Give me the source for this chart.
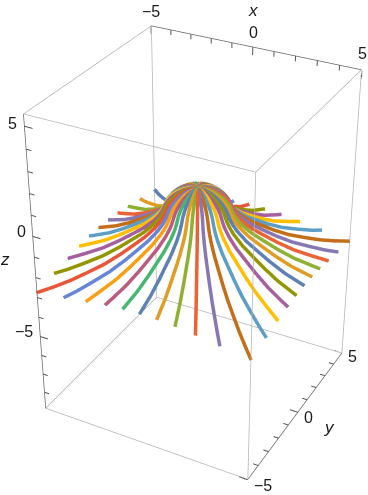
import numpy as np, plotly.graph_objects as go

# Radial profile of the curves (radius from the z axis, height)
profile_rho = [0, .3, .6, .85, 1.05, 1.2, 1.33, 1.42, 1.5, 1.62, 1.85, 2.3, 2.75, 3.4, 4.1, 4.9, 5.6, 6.3, 7.2]
profile_z = [1.13, 1.10, 1.01, .87, .72, .56, .38, .18, 0, -.2, -.47, -.85, -1.13, -1.52, -1.88, -2.18, -2.42, -2.6, -2.78]
# Direction of each of the 40 curves, in degrees
azimuths = [135, 144, 153, 162, 171, 180, 189, 198, 207, 216, 225, 234, 243, 252, 261, 270, 279, 288, 297, 306,
            315, 324, 333, 342, 351, 360, 369, 378, 387, 396, 405, 414, 423, 432, 441, 450, 459, 468, 477, 486]
palette = ["#5E81B5", "#E19C24", "#8FB032", "#EB6235", "#8778B3", "#C56E1A", "#5D9EC7", "#FFBF00", "#A5609D", "#929600",
           "#E95536", "#6685D9", "#F89F13", "#BC5B80", "#47B66F"]
color_index = [0, 1, 2, 3, 4, 5, 6, 7, 8, 9, 10, 11, 12, 13, 14, 0, 1, 2, 3, 4, 5, 6, 7, 8, 9,
               0, 1, 2, 3, 4, 5, 6, 7, 8, 9, 10, 11, 12, 13, 14]
x_range = [-5, 5]
y_range = [-5, 5]
z_range = [-8.91, 5.55]
x_ticks = [-5, -4, -3, -2, -1, 0, 1, 2, 3, 4, 5]
y_ticks = [-5, -4, -3, -2, -1, 0, 1, 2, 3, 4, 5]
z_ticks = [-8, -7, -6, -5, -4, -3, -2, -1, 0, 1, 2, 3, 4, 5]
major_ticks = [-5, 0, 5]

fig = go.Figure()
rho = np.array(profile_rho)
for az, ci in zip(azimuths, color_index):
    a = np.radians(az)
    fig.add_trace(go.Scatter3d(x=rho * np.cos(a), y=rho * np.sin(a), z=profile_z, mode="lines",
                               line=dict(width=7, color=palette[ci]), showlegend=False, hoverinfo="skip"))

inset = 0.02
xl, xh = x_range[0] + inset, x_range[1] - inset
yl, yh = y_range[0] + inset, y_range[1] - inset
zl, zh = z_range[0] + inset, z_range[1] - inset

# Light box edges
bx, by, bz = [], [], []
for (x0, y0, z0), (x1, y1, z1) in [((xl, yl, zh), (xh, yl, zh)), ((xh, yl, zh), (xh, yh, zh)), ((xl, yl, zh), (xl, yh, zh)),
                                   ((xl, yl, zl), (xh, yl, zl)), ((xl, yl, zl), (xl, yh, zl)), ((xl, yh, zl), (xh, yh, zl)),
                                   ((xh, yl, zl), (xh, yl, zh)), ((xh, yh, zl), (xh, yh, zh)), ((xl, yh, zl), (xl, yh, zh))]:
    bx += [x0, x1, np.nan]; by += [y0, y1, np.nan]; bz += [z0, z1, np.nan]
fig.add_trace(go.Scatter3d(x=bx, y=by, z=bz, mode="lines", line=dict(width=1.5, color="#b4b4b4"),
                           showlegend=False, hoverinfo="skip"))

# Dark axis edges
fig.add_trace(go.Scatter3d(x=[xl, xh, np.nan, xh, xh, np.nan, xl, xl], y=[yh, yh, np.nan, yl, yh, np.nan, yl, yl],
                           z=[zh, zh, np.nan, zl, zl, np.nan, zh, zl], mode="lines", line=dict(width=1.5, color="#666666"),
                           showlegend=False, hoverinfo="skip"))

# Tick marks
sx, sy, sz = [], [], []
for t in x_ticks:
    L = .38 if t in major_ticks else .24
    sx += [t, t, np.nan]; sy += [yh, yh, np.nan]; sz += [zh, zh - L, np.nan]
for t in y_ticks:
    L = .38 if t in major_ticks else .24
    sx += [xh, xh - L, np.nan]; sy += [t, t, np.nan]; sz += [zl, zl, np.nan]
for t in z_ticks:
    L = .38 if t in major_ticks else .24
    sx += [xl, xl + L, np.nan]; sy += [yl, yl, np.nan]; sz += [t, t, np.nan]
fig.add_trace(go.Scatter3d(x=sx, y=sy, z=sz, mode="lines", line=dict(width=2, color="#555555"),
                           showlegend=False, hoverinfo="skip"))

txt = dict(family="Liberation Sans, Arial, sans-serif", size=16, color="#1a1a1a")
def lab(text, x, y, z, dx, dy, size=16):
    return dict(text=text, x=x, y=y, z=z, xshift=dx, yshift=-dy, showarrow=False, xanchor="center", yanchor="middle",
                font=dict(txt, size=size))
anns = [lab("−5", -5, 5, zh, 0, -14), lab("0", 0, 5, zh, 0, -14), lab("5", 5, 5, zh, 0, -16),
        lab("<i>x</i>", 0, 5, zh, 0, -36, 17),
        lab("5", 5, 5, zl, 10, 4), lab("0", 5, 0, zl, 10, 5), lab("−5", 5, -5, zl, 15, 6),
        lab("<i>y</i>", 5, 0, zl, 31, 15, 17),
        lab("5", -5, -5, 5, -11, -3), lab("0", -5, -5, 0, -11, -5), lab("−5", -5, -5, -5, -16, -5),
        lab("<i>z</i>", -5, -5, -1, -29, 2, 17)]

axis = dict(showgrid=False, zeroline=False, showticklabels=False, showbackground=False, title="", ticks="",
            ticklen=0, tickwidth=0, tickmode="array", tickvals=[], showline=False, showspikes=False)
fig.update_layout(width=1116, height=1116, margin=dict(l=0, r=0, t=0, b=0), paper_bgcolor="white",
                  scene=dict(aspectmode="manual", aspectratio=dict(x=1, y=1, z=1.4465), domain=dict(x=[0, 1], y=[0, 1]),
                             camera=dict(eye=dict(x=2.2997, y=-4.3219, z=3.022), center=dict(x=0, y=0, z=0), up=dict(x=0, y=0, z=1)),
                             xaxis=dict(axis, range=x_range), yaxis=dict(axis, range=y_range), zaxis=dict(axis, range=z_range),
                             annotations=anns))
js = ("var g=document.querySelector('.plotly-graph-div');g.style.position='fixed';g.style.left='-360px';g.style.top='-313px';"
      "document.documentElement.style.overflow='hidden';document.body.style.overflow='hidden';")
fig.write_html("out.html", post_script=js, config=dict(displayModeBar=False))
